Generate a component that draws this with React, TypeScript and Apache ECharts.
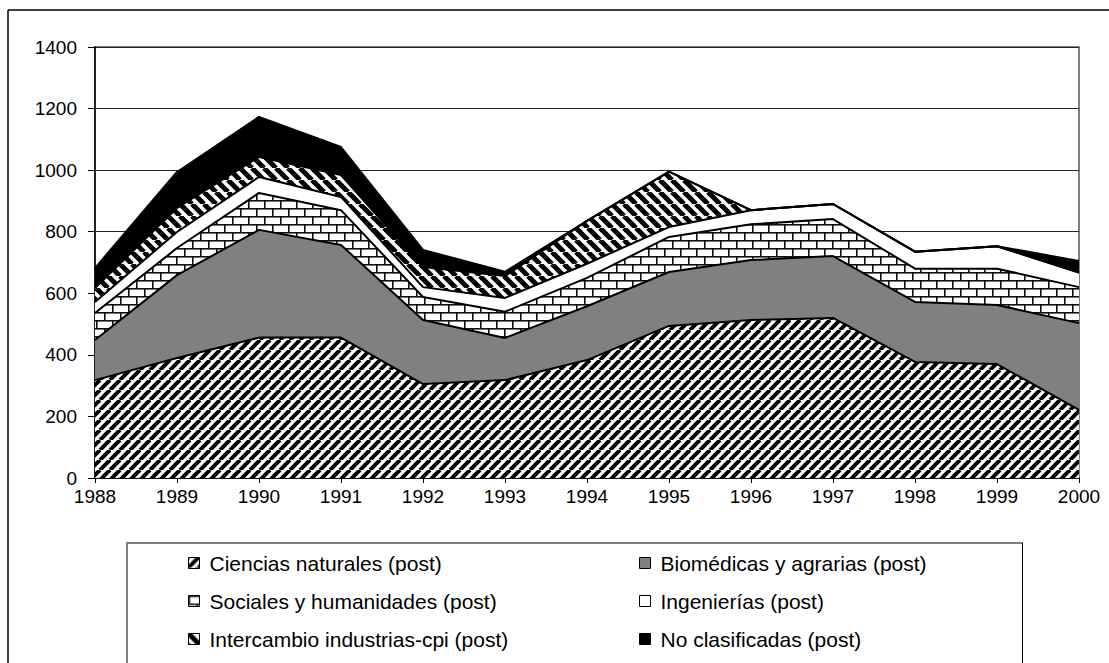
import React, { useEffect, useRef } from "react";
import * as echarts from "echarts";

// Years on the horizontal axis
const years = ["1988", "1989", "1990", "1991", "1992", "1993", "1994", "1995", "1996", "1997", "1998", "1999", "2000"];

// Postgraduate counts per area (stacked from the bottom up)
const cienciasNaturales = [318, 390, 456, 456, 305, 318, 383, 494, 513, 520, 377, 370, 221];
const biomedicas = [130, 269, 350, 301, 208, 137, 175, 175, 195, 201, 195, 192, 282];
const sociales = [88, 88, 120, 113, 75, 85, 92, 114, 116, 120, 108, 118, 117];
const ingenierias = [36, 52, 52, 43, 32, 45, 46, 32, 46, 49, 55, 73, 47];
const intercambio = [45, 78, 65, 71, 65, 71, 139, 180, 0, 0, 0, 0, 0];
const noClasificadas = [65, 117, 130, 91, 56, 14, 0, 0, 0, 0, 0, 0, 38];

const seriesNames = [
  "Ciencias naturales (post)",
  "Biomédicas y agrarias (post)",
  "Sociales y humanidades (post)",
  "Ingenierías (post)",
  "Intercambio industrias-cpi (post)",
  "No clasificadas (post)",
];

const FONT = 'Arial, "Liberation Sans", sans-serif';

function tile(w: number, h: number, draw: (ctx: CanvasRenderingContext2D) => void) {
  const c = document.createElement("canvas");
  c.width = w;
  c.height = h;
  const ctx = c.getContext("2d")!;
  ctx.fillStyle = "#fff";
  ctx.fillRect(0, 0, w, h);
  draw(ctx);
  return { image: c.toDataURL(), repeat: "repeat", imageWidth: w, imageHeight: h } as any;
}

function upDiagonal(t: number, lw: number) {
  return tile(t, t, (ctx) => {
    ctx.strokeStyle = "#000";
    ctx.lineWidth = lw;
    for (let k = -1; k <= 1; k++) {
      ctx.beginPath();
      ctx.moveTo(k * t, t);
      ctx.lineTo(k * t + t, 0);
      ctx.stroke();
    }
  });
}

function downDiagonal(t: number, lw: number) {
  return tile(t, t, (ctx) => {
    ctx.strokeStyle = "#000";
    ctx.lineWidth = lw;
    for (let k = -1; k <= 1; k++) {
      ctx.beginPath();
      ctx.moveTo(k * t, 0);
      ctx.lineTo(k * t + t, t);
      ctx.stroke();
    }
  });
}

function bricks() {
  return tile(16, 16, (ctx) => {
    ctx.fillStyle = "#111";
    ctx.fillRect(0, 0, 16, 1.6);
    ctx.fillRect(0, 8, 16, 1.6);
    ctx.fillRect(0, 0, 1.6, 8);
    ctx.fillRect(8, 8, 1.6, 8);
  });
}

export default function App() {
  const ref = useRef<HTMLDivElement>(null);

  useEffect(() => {
    if (!ref.current) return;
    const chart = echarts.init(ref.current, null, { renderer: "svg" });

    const fills = [
      upDiagonal(10, 4),
      "#808080",
      bricks(),
      "#ffffff",
      downDiagonal(12, 5),
      "#000000",
    ];
    const values = [cienciasNaturales, biomedicas, sociales, ingenierias, intercambio, noClasificadas];

    const legendItem = (i: number) => ({
      name: seriesNames[i],
      itemStyle: { color: fills[i], borderColor: "#000", borderWidth: 1 },
    });

    const legendCommon = {
      orient: "vertical",
      top: 547,
      icon: "rect",
      itemWidth: 11,
      itemHeight: 11,
      itemGap: 16,
      selectedMode: false,
      textStyle: { fontFamily: FONT, fontSize: 21, color: "#000", lineHeight: 22, padding: [0, 0, 0, 5] },
    };

    chart.setOption({
      animation: false,
      backgroundColor: "#fff",
      grid: {
        left: 95,
        right: 30,
        top: 47,
        bottom: 185,
        show: true,
        borderColor: "#808080",
        borderWidth: 2,
        backgroundColor: "transparent",
      },
      xAxis: {
        type: "category",
        data: years,
        boundaryGap: false,
        axisLine: { lineStyle: { color: "#000", width: 1.5 } },
        axisTick: { show: true, length: 5, lineStyle: { color: "#000" } },
        axisLabel: { fontFamily: FONT, fontSize: 19, color: "#000", margin: 9 },
        splitLine: { show: false },
      },
      yAxis: {
        type: "value",
        min: 0,
        max: 1400,
        interval: 200,
        axisLine: { show: true, lineStyle: { color: "#000", width: 1.5 } },
        axisTick: { show: true, length: 7, lineStyle: { color: "#000" } },
        axisLabel: {
          fontFamily: FONT,
          fontSize: 19,
          color: "#000",
          margin: 18,
          formatter: (v: number) => String(v),
        },
        splitLine: { show: true, lineStyle: { color: "#222", width: 1 } },
      },
      legend: [
        { ...legendCommon, left: 183, data: [0, 2, 4].map(legendItem) },
        { ...legendCommon, left: 634, data: [1, 3, 5].map(legendItem) },
      ],
      graphic: [
        // outer frame
        { type: "line", shape: { x1: 8, y1: 10, x2: 1109, y2: 10 }, style: { stroke: "#000", lineWidth: 1.5 } },
        { type: "line", shape: { x1: 8, y1: 10, x2: 8, y2: 663 }, style: { stroke: "#000", lineWidth: 1.5 } },
        // legend box
        { type: "line", shape: { x1: 126, y1: 543, x2: 1023, y2: 543 }, style: { stroke: "#808080", lineWidth: 2 } },
        { type: "line", shape: { x1: 127, y1: 543, x2: 127, y2: 663 }, style: { stroke: "#808080", lineWidth: 2 } },
        { type: "line", shape: { x1: 1022.5, y1: 543, x2: 1022.5, y2: 663 }, style: { stroke: "#000", lineWidth: 1 } },
      ],
      series: values.map((v, i) => ({
        name: seriesNames[i],
        type: "line",
        stack: "total",
        data: v,
        symbol: "none",
        showSymbol: false,
        lineStyle: { color: "#000", width: 2 },
        itemStyle: { color: fills[i] },
        areaStyle: { color: fills[i], opacity: 1 },
      })),
    });

    return () => chart.dispose();
  }, []);

  return (
    <div
      ref={ref}
      style={{ position: "fixed", left: 0, top: 0, width: 1109, height: 663, background: "#fff" }}
    />
  );
}
